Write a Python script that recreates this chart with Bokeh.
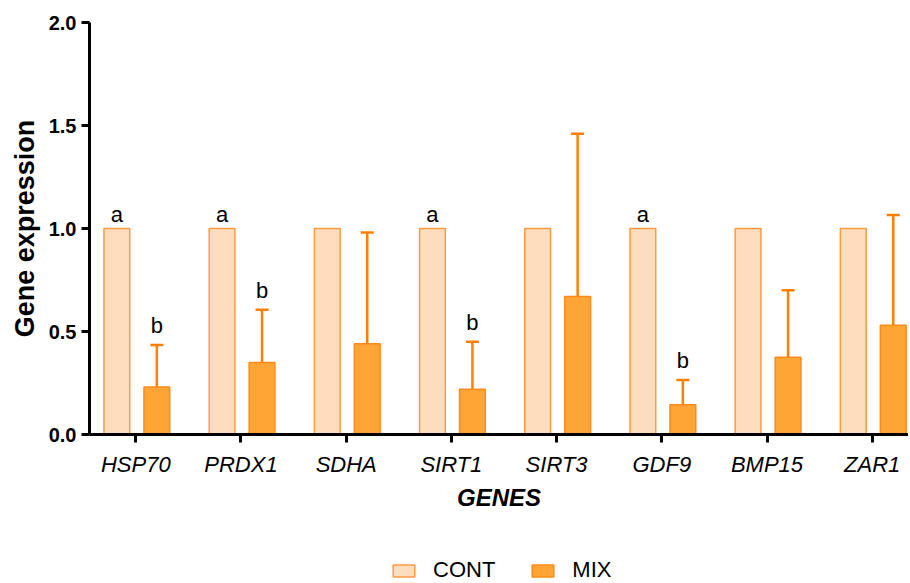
from bokeh.plotting import figure
from bokeh.layouts import column
from bokeh.models import (Range1d, FactorRange, FixedTicker, ColumnDataSource, Whisker,
                          TeeHead, Legend, LegendItem)
from bokeh.core.properties import value
from bokeh.embed import file_html
from bokeh.resources import INLINE

genes = ["HSP70", "PRDX1", "SDHA", "SIRT1", "SIRT3", "GDF9", "BMP15", "ZAR1"]
cont = [1.0, 1.0, 1.0, 1.0, 1.0, 1.0, 1.0, 1.0]
mix = [0.23, 0.35, 0.44, 0.22, 0.67, 0.145, 0.375, 0.53]
mix_sd = [0.205, 0.255, 0.54, 0.23, 0.79, 0.12, 0.325, 0.535]
cont_letters = ["a", "a", "", "a", "", "a", "", ""]
mix_letters = ["b", "b", "", "b", "", "b", "", ""]
y_ticks = [0.0, 0.5, 1.0, 1.5, 2.0]
series = ["CONT", "MIX"]

FONT = "Liberation Sans"
CONT_FILL, CONT_LINE = "#FDDDBE", "#FF9A40"
MIX_FILL, MIX_LINE = "#FFA535", "#FF8A1A"
ERR = "#FF8000"
OFF_C, OFF_M, BW = -0.18, 0.2, 0.245

idx = list(range(len(genes)))
src = ColumnDataSource(dict(
    xc=[i + OFF_C for i in idx], xm=[i + OFF_M for i in idx],
    cont=cont, mix=mix, top=[m + s for m, s in zip(mix, mix_sd)],
    la=cont_letters, lb=mix_letters))

p = figure(frame_width=819, frame_height=412, min_border_left=89, min_border_right=0,
           min_border_top=22, min_border_bottom=96,
           x_range=Range1d(-0.44, 7.345), y_range=Range1d(0, 2),
           output_backend="svg", toolbar_location=None)
p.outline_line_color = None
p.xgrid.visible = False
p.ygrid.visible = False

p.vbar(x="xc", top="cont", width=BW, source=src, fill_color=CONT_FILL,
       line_color=CONT_LINE, line_width=1.5)
p.vbar(x="xm", top="mix", width=BW, source=src, fill_color=MIX_FILL,
       line_color=MIX_LINE, line_width=1.5)

w = Whisker(base="xm", lower="mix", upper="top", source=src, dimension="height",
            line_color=ERR, line_width=2.5,
            upper_head=TeeHead(size=13, line_color=ERR, line_width=2.5), lower_head=None)
p.add_layout(w)

p.text(x="xc", y="cont", text="la", source=src, text_font=value(FONT),
       text_font_size="22px", text_align="center", text_baseline="alphabetic",
       y_offset=-14, text_color="black")
p.text(x="xm", y="top", text="lb", source=src, text_font=value(FONT),
       text_font_size="22px", text_align="center", text_baseline="alphabetic",
       y_offset=-19, text_color="black")

# y axis
ya = p.yaxis[0]
ya.ticker = FixedTicker(ticks=y_ticks)
ya.major_label_overrides = {t: f"{t:.1f}" for t in y_ticks}
ya.axis_label = "Gene expression"
ya.axis_label_text_font = FONT
ya.axis_label_text_font_size = "27px"
ya.axis_label_text_font_style = "bold"
ya.axis_label_text_color = "black"
ya.axis_label_standoff = 6
ya.major_label_text_font = FONT
ya.major_label_text_font_size = "20px"
ya.major_label_text_font_style = "bold"
ya.major_label_text_color = "black"
ya.major_label_standoff = 5
ya.axis_line_width = 3
ya.major_tick_line_width = 3
ya.major_tick_out = 8
ya.major_tick_in = 0
ya.minor_tick_line_color = None

# x axis
xa = p.xaxis[0]
xa.ticker = FixedTicker(ticks=idx)
xa.major_label_overrides = {i: g for i, g in zip(idx, genes)}
xa.axis_label = "GENES"
xa.axis_label_text_font = FONT
xa.axis_label_text_font_size = "24px"
xa.axis_label_text_font_style = "bold italic"
xa.axis_label_text_color = "black"
xa.axis_label_standoff = 4
xa.major_label_text_font = FONT
xa.major_label_text_font_size = "22px"
xa.major_label_text_font_style = "italic"
xa.major_label_text_color = "black"
xa.major_label_standoff = 9
xa.axis_line_width = 3
xa.major_tick_line_width = 3
xa.major_tick_out = 8
xa.major_tick_in = 0
xa.minor_tick_line_color = None

# legend strip below the chart (swatch proxies carry no drawable values)
lg = figure(width=908, height=53, min_border=0, x_range=FactorRange(*series),
            y_range=Range1d(0, 1), output_backend="svg", toolbar_location=None)
lg.axis.visible = False
lg.xgrid.visible = False
lg.ygrid.visible = False
lg.outline_line_color = None
lsrc = ColumnDataSource(dict(s=series, top=[float("nan"), float("nan")]))
sw_c = lg.vbar(x="s", top="top", width=0.1, source=lsrc,
               fill_color=CONT_FILL, line_color=CONT_LINE, line_width=1.5)
sw_m = lg.vbar(x="s", top="top", width=0.1, source=lsrc,
               fill_color=MIX_FILL, line_color=MIX_LINE, line_width=1.5)
legend = Legend(items=[LegendItem(label=series[0], renderers=[sw_c]),
                       LegendItem(label=series[1], renderers=[sw_m])],
                orientation="horizontal", location=(301, 0),
                glyph_width=27, glyph_height=15, label_standoff=16, spacing=34,
                padding=0, margin=0, border_line_color=None,
                label_text_font=FONT, label_text_font_size="22px",
                label_text_color="black", background_fill_alpha=0)
lg.add_layout(legend, "center")

layout = column(p, lg, spacing=0)
open("out.html", "w").write(file_html(layout, INLINE))
